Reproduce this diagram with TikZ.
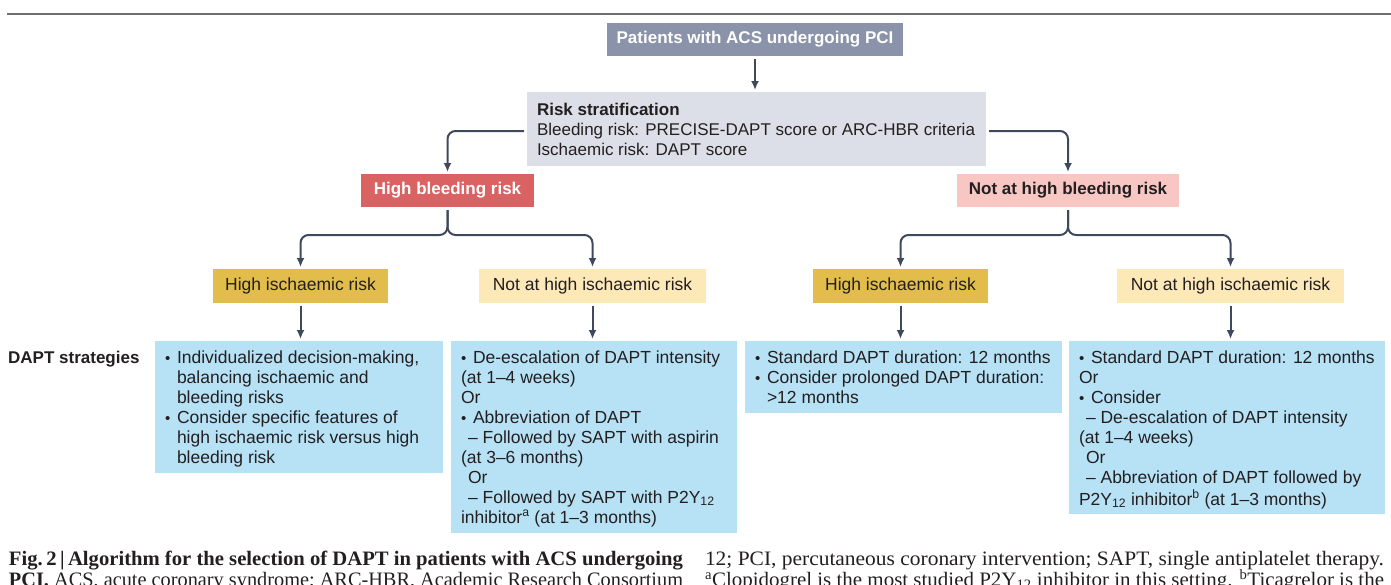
\documentclass[tikz,border=0pt]{standalone}
\usepackage{graphicx}
\usepackage{fontspec}
\setmainfont{Liberation Sans}
\newfontfamily\capfont{Liberation Serif}
\usetikzlibrary{arrows.meta}
\definecolor{conncol}{HTML}{3E4A5C}
\definecolor{patcol}{HTML}{8A93A9}
\definecolor{riskcol}{HTML}{DCDFE7}
\definecolor{hbrcol}{HTML}{DA6262}
\definecolor{nhbrcol}{HTML}{F9C7C3}
\definecolor{hicol}{HTML}{E3BD4C}
\definecolor{nhicol}{HTML}{FDE8B7}
\definecolor{stratcol}{HTML}{B7E1F5}
\definecolor{rulecol}{HTML}{6E6E70}
\definecolor{txtcol}{HTML}{231F20}
\newcommand{\bul}{\makebox[12pt][l]{\fontsize{15}{15}\selectfont•}}
\newcommand{\hng}{\hspace*{12pt}}
\newcommand{\ind}{\hspace*{7pt}}
\newcommand{\capfit}[2]{\resizebox{#1}{\height}{#2}}
\begin{document}
\begin{tikzpicture}[x=1pt,y=-1pt,
  boxnode/.style={anchor=north west, inner sep=0pt, outer sep=0pt},
  labbold/.style={boxnode, font=\fontsize{17}{20}\selectfont\bfseries},
  labreg/.style={boxnode, font=\fontsize{17.5}{20}\selectfont, text=txtcol},
  bodytxt/.style={anchor=north west, inner sep=0pt, outer sep=0pt, align=left, font=\fontsize{17.5}{20}\selectfont, text=txtcol},
  conn/.style={draw=conncol, line width=2pt, rounded corners=8pt, -{Latex[length=9pt,width=8pt]}, shorten >=2pt, shorten <=3pt},
  capline/.style={anchor=base west, inner sep=0pt, outer sep=0pt, font=\capfont\fontsize{20.5}{21.6}\selectfont, text=txtcol}]
\useasboundingbox (0,0) rectangle (1391,584);
\clip (0,0) rectangle (1391,584);
% top rule
\coordinate (ruleA) at (7,14);
\coordinate (ruleB) at (1391,14);
\draw[rulecol, line width=1.5pt] (ruleA) -- (ruleB);
% header boxes
\node[labbold, fill=patcol, text=white, minimum width=296pt, minimum height=33pt] (pat) at (607,23) {Patients with ACS undergoing PCI};
\node[boxnode, fill=riskcol, minimum width=459pt, minimum height=74pt] (risk) at (527,92) {};
\node[bodytxt, font=\fontsize{17}{20}\selectfont] (risktxt) at (537,101) {\strut\textbf{Risk stratification}\\
\strut Bleeding risk: PRECISE-DAPT score or ARC-HBR criteria\\
\strut Ischaemic risk: DAPT score};
\node[labbold, fill=hbrcol, text=white, minimum width=173pt, minimum height=33pt] (hbr) at (361,174) {High bleeding risk};
\node[labbold, fill=nhbrcol, text=txtcol, minimum width=222pt, minimum height=33pt] (nhbr) at (957,174) {Not at high bleeding risk};
\node[labreg, fill=hicol, minimum width=175pt, minimum height=34pt] (hi1) at (213,269) {High ischaemic risk};
\node[labreg, fill=nhicol, minimum width=227pt, minimum height=34pt] (nhi1) at (479,269) {Not at high ischaemic risk};
\node[labreg, fill=hicol, minimum width=175pt, minimum height=34pt] (hi2) at (813,269) {High ischaemic risk};
\node[labreg, fill=nhicol, minimum width=227pt, minimum height=34pt] (nhi2) at (1117,269) {Not at high ischaemic risk};
% strategy boxes
\node[boxnode, fill=stratcol, minimum width=288pt, minimum height=132pt] (s1) at (155,341) {};
\node[boxnode, fill=stratcol, minimum width=286pt, minimum height=192pt] (s2) at (451,341) {};
\node[boxnode, fill=stratcol, minimum width=317pt, minimum height=72pt] (s3) at (745,341) {};
\node[boxnode, fill=stratcol, minimum width=316pt, minimum height=173pt] (s4) at (1069,341) {};
\node[anchor=base west, inner sep=0pt, text=txtcol, font=\fontsize{17}{20}\selectfont\bfseries] (daptlab) at (8,363) {DAPT strategies};
\node[bodytxt] (s1txt) at (165,349) {\strut\bul Individualized decision-making,\\
\strut\hng balancing ischaemic and\\
\strut\hng bleeding risks\\
\strut\bul Consider specific features of\\
\strut\hng high ischaemic risk versus high\\
\strut\hng bleeding risk};
\node[bodytxt] (s2txt) at (461,349) {\strut\bul De-escalation of DAPT intensity\\
\strut(at 1–4 weeks)\\
\strut Or\\
\strut\bul Abbreviation of DAPT\\
\strut\ind – Followed by SAPT with aspirin\\
\strut(at 3–6 months)\\
\strut\ind Or\\
\strut\ind – Followed by SAPT with P2Y\textsubscript{12}\\
\strut inhibitor\textsuperscript{a} (at 1–3 months)};
\node[bodytxt] (s3txt) at (755,349) {\strut\bul Standard DAPT duration: 12 months\\
\strut\bul Consider prolonged DAPT duration:\\
\strut\hng >12 months};
\node[bodytxt] (s4txt) at (1079,349) {\strut\bul Standard DAPT duration: 12 months\\
\strut Or\\
\strut\bul Consider\\
\strut\ind – De-escalation of DAPT intensity\\
\strut(at 1–4 weeks)\\
\strut\ind Or\\
\strut\ind – Abbreviation of DAPT followed by\\
\strut P2Y\textsubscript{12} inhibitor\textsuperscript{b} (at 1–3 months)};
% connectors
\draw[conn] (pat.south) -- (pat.south |- risk.north);
\draw[conn] ([yshift=-2pt]risk.west) -| (hbr.north);
\draw[conn] ([yshift=-2pt]risk.east) -| (nhbr.north);
\coordinate (hbrj) at ([yshift=-28pt]hbr.south);
\coordinate (nhbrj) at ([yshift=-28pt]nhbr.south);
\draw[conn] (hbr.south) -- (hbrj) -| (hi1.north);
\draw[conn] (hbr.south) -- (hbrj) -| (nhi1.north);
\draw[conn] (nhbr.south) -- (nhbrj) -| (hi2.north);
\draw[conn] (nhbr.south) -- (nhbrj) -| (nhi2.north);
\draw[conn] (hi1.south) -- (hi1.south |- s1.north);
\draw[conn] (nhi1.south) -- (nhi1.south |- s2.north);
\draw[conn] (hi2.south) -- (hi2.south |- s3.north);
\draw[conn] (nhi2.south) -- (nhi2.south |- s4.north);
% caption
\node[capline] (capL1) at (9,565) {\capfit{674pt}{\bfseries Fig.\,2\,|\,Algorithm for the selection of DAPT in patients with ACS undergoing}};
\node[capline] (capR1) at (705,565) {\capfit{679pt}{12; PCI, percutaneous coronary intervention; SAPT, single antiplatelet therapy.}};
\node[capline] (capL2) at (9,586.6) {\capfit{674pt}{\textbf{PCI.} ACS, acute coronary syndrome; ARC-HBR, Academic Research Consortium}};
\node[capline] (capR2) at (705,586.6) {\capfit{679pt}{\textsuperscript{a}Clopidogrel is the most studied P2Y\textsubscript{12} inhibitor in this setting. \textsuperscript{b}Ticagrelor is the}};
\end{tikzpicture}
\end{document}
